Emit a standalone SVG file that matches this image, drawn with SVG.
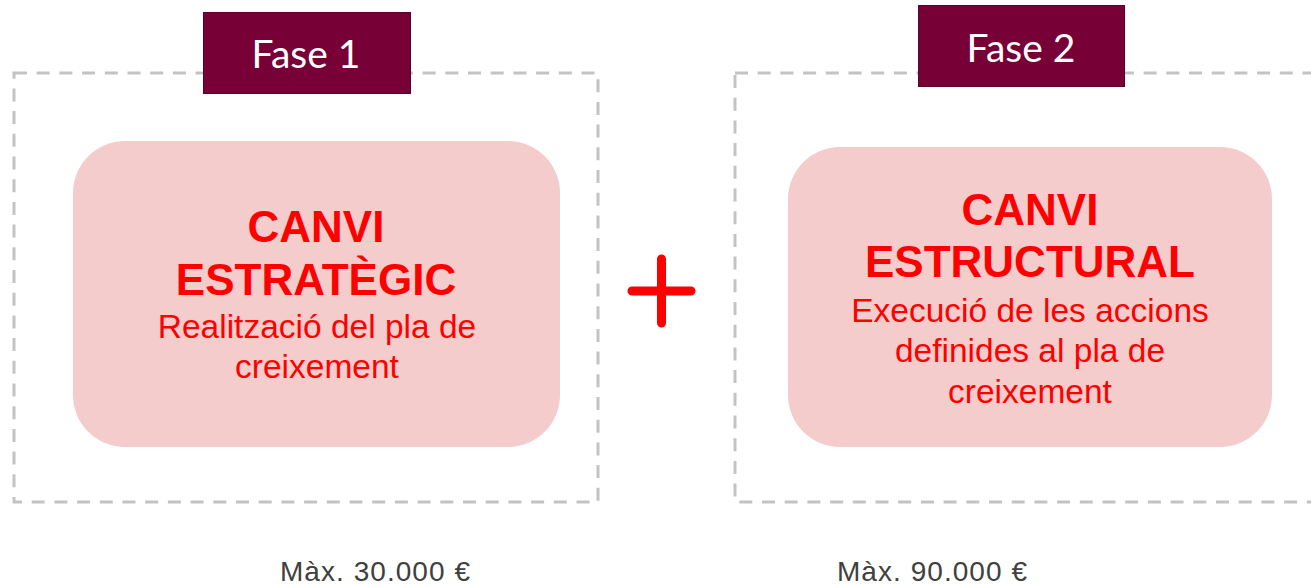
<svg xmlns="http://www.w3.org/2000/svg" width="1311" height="586" viewBox="0 0 1311 586">
<style>
.frame{fill:none;stroke:#c3c3c3;stroke-width:3;stroke-dasharray:13 9.7}
.tab{fill:#770037;stroke:#5a0029;stroke-width:1}
.tabt{fill:#ffffff;font-family:Lato,"Liberation Sans",sans-serif;font-size:39px;text-anchor:middle}
.card{fill:#f4cccc}
.title{fill:#ff0000;font-family:"Liberation Sans",Arial,sans-serif;font-weight:bold;font-size:44px;text-anchor:middle}
.body{fill:#ff0000;font-family:"Liberation Sans",Arial,sans-serif;font-size:33.5px;text-anchor:middle}
.max{fill:#404040;font-family:"Liberation Sans",Arial,sans-serif;font-size:28px}
</style>
<rect width="1311" height="586" fill="#ffffff"/>
<g id="fase1">
<rect class="frame" x="14" y="73" width="584" height="429"/>
<rect class="card" x="73" y="141" width="487" height="306" rx="52"/>
<rect class="tab" x="203.5" y="12.5" width="207" height="81"/>
<text class="tabt" x="306" y="68">Fase 1</text>
<text class="title" x="316" y="242">CANVI</text>
<text class="title" x="316" y="295">ESTRATÈGIC</text>
<text class="body" x="317" y="338">Realització del pla de</text>
<text class="body" x="317" y="378">creixement</text>
<text class="max" x="280" y="581" textLength="190" lengthAdjust="spacing">Màx. 30.000 €</text>
</g>
<g id="fase2">
<rect class="frame" x="735" y="73" width="600" height="429"/>
<rect class="card" x="788" y="147" width="484" height="300" rx="52"/>
<rect class="tab" x="918.5" y="5.5" width="206" height="81"/>
<text class="tabt" x="1021" y="62">Fase 2</text>
<text class="title" x="1030" y="225">CANVI</text>
<text class="title" x="1030" y="277">ESTRUCTURAL</text>
<text class="body" x="1030" y="322">Execució de les accions</text>
<text class="body" x="1030" y="362">definides al pla de</text>
<text class="body" x="1030" y="403">creixement</text>
<text class="max" x="837" y="581" textLength="190" lengthAdjust="spacing">Màx. 90.000 €</text>
</g>
<g id="connectors">
<path d="M632 291H691M661.5 259V323" stroke="#ff0000" stroke-width="9" stroke-linecap="round" fill="none"/>
</g>
</svg>
